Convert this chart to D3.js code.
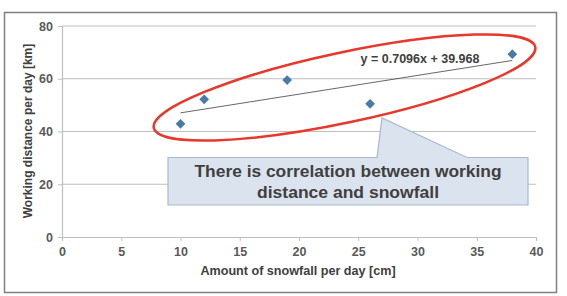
<!DOCTYPE html>
<html lang="en">
<head>
  <meta charset="UTF-8">
  <title>Working distance vs snowfall</title>
  <script src="https://d3js.org/d3.v7.min.js"></script>
  <style>
    body { margin: 0; background: #fff; font-family: "Liberation Sans", Arial, sans-serif; }
    svg { display: block; }
  </style>
</head>
<body>
  <svg width="567" height="296"></svg>

  <script>
    // data
    const snowfall = [10, 12, 19, 26, 38];
    const distance = [42.9, 52.2, 59.5, 50.5, 69.3];
    const xTicks = [0, 5, 10, 15, 20, 25, 30, 35, 40];
    const yTicks = [0, 20, 40, 60, 80];
    const slope = 0.7096, intercept = 39.968;
    const eqLabel = "y = 0.7096x + 39.968";
    const calloutLines = ["There is correlation between working", "distance and snowfall"];

    const svg = d3.select("svg");

    // outer frame
    svg.append("rect")
      .attr("x", 4.5).attr("y", 12.5)
      .attr("width", 552).attr("height", 280)
      .attr("fill", "#fff")
      .attr("stroke", "#7f7f7f")
      .attr("stroke-width", 1.5);

    const x = d3.scaleLinear().domain([0, 40]).range([62, 536]);
    const y = d3.scaleLinear().domain([0, 80]).range([237, 26]);

    // gridlines
    svg.append("g")
      .selectAll("line")
      .data(yTicks.filter(d => d > 0))
      .enter()
      .append("line")
      .attr("x1", x(0)).attr("x2", x(40))
      .attr("y1", d => y(d)).attr("y2", d => y(d))
      .attr("stroke", "#bfbfbf")
      .attr("stroke-width", 1.2);

    // y axis
    const yAxis = svg.append("g")
      .attr("transform", `translate(${x(0)},0)`)
      .call(d3.axisLeft(y).tickValues(yTicks).tickSize(4).tickPadding(5));
    // x axis
    const xAxis = svg.append("g")
      .attr("transform", `translate(0,${y(0)})`)
      .call(d3.axisBottom(x).tickValues(xTicks).tickSize(4).tickPadding(6));

    [yAxis, xAxis].forEach(g => {
      g.select(".domain").attr("stroke", "#bfbfbf").attr("stroke-width", 1.2);
      g.selectAll(".tick line").attr("stroke", "#bfbfbf");
      g.selectAll("text")
        .attr("fill", "#595959")
        .attr("font-family", "Liberation Sans, Arial, sans-serif")
        .attr("font-weight", "bold")
        .attr("font-size", "12.5px");
    });

    // axis titles
    svg.append("text")
      .attr("transform", "translate(32,131) rotate(-90)")
      .attr("text-anchor", "middle")
      .attr("font-size", "12px")
      .attr("font-weight", "bold")
      .attr("fill", "#404040")
      .text("Working distance per day [km]");

    svg.append("text")
      .attr("x", 298).attr("y", 275)
      .attr("text-anchor", "middle")
      .attr("font-size", "12.6px")
      .attr("font-weight", "bold")
      .attr("fill", "#404040")
      .text("Amount of snowfall per day [cm]");

    // trendline
    const xMin = d3.min(snowfall), xMax = d3.max(snowfall);
    svg.append("line")
      .attr("x1", x(xMin)).attr("y1", y(slope * xMin + intercept))
      .attr("x2", x(xMax)).attr("y2", y(slope * xMax + intercept))
      .attr("stroke", "#404040")
      .attr("stroke-width", 0.8);

    // points
    svg.append("g")
      .selectAll("path")
      .data(snowfall.map((s, i) => [s, distance[i]]))
      .enter()
      .append("path")
      .attr("d", d3.symbol(d3.symbolDiamond2, 60))
      .attr("transform", d => `translate(${x(d[0])},${y(d[1])})`)
      .attr("fill", "#4a7aa6");

    // equation label
    svg.append("text")
      .attr("x", 420).attr("y", 63)
      .attr("text-anchor", "middle")
      .attr("font-size", "12.5px")
      .attr("font-weight", "bold")
      .attr("fill", "#404040")
      .text(eqLabel);

    // red ellipse
    svg.append("ellipse")
      .attr("cx", 0).attr("cy", 0)
      .attr("rx", 195).attr("ry", 35)
      .attr("transform", "translate(344.5,87.5) rotate(-12)")
      .attr("fill", "none")
      .attr("stroke", "#e8372b")
      .attr("stroke-width", 2.5);

    // callout
    svg.append("path")
      .attr("d", "M168,157.5 L377,157.5 L382,118 L467,157.5 L528,157.5 L528,205 L168,205 Z")
      .attr("fill", "#dbe3ee")
      .attr("stroke", "#a9b8cc")
      .attr("stroke-width", 1.2);

    const lineWidths = [307, 182];
    svg.append("g")
      .selectAll("text")
      .data(calloutLines)
      .enter()
      .append("text")
      .attr("x", 348)
      .attr("y", (d, i) => 177 + i * 21)
      .attr("text-anchor", "middle")
      .attr("font-size", "16px")
      .attr("font-weight", "bold")
      .attr("fill", "#404040")
      .attr("textLength", (d, i) => lineWidths[i])
      .attr("lengthAdjust", "spacingAndGlyphs")
      .text(d => d);
  </script>
</body>
</html>
